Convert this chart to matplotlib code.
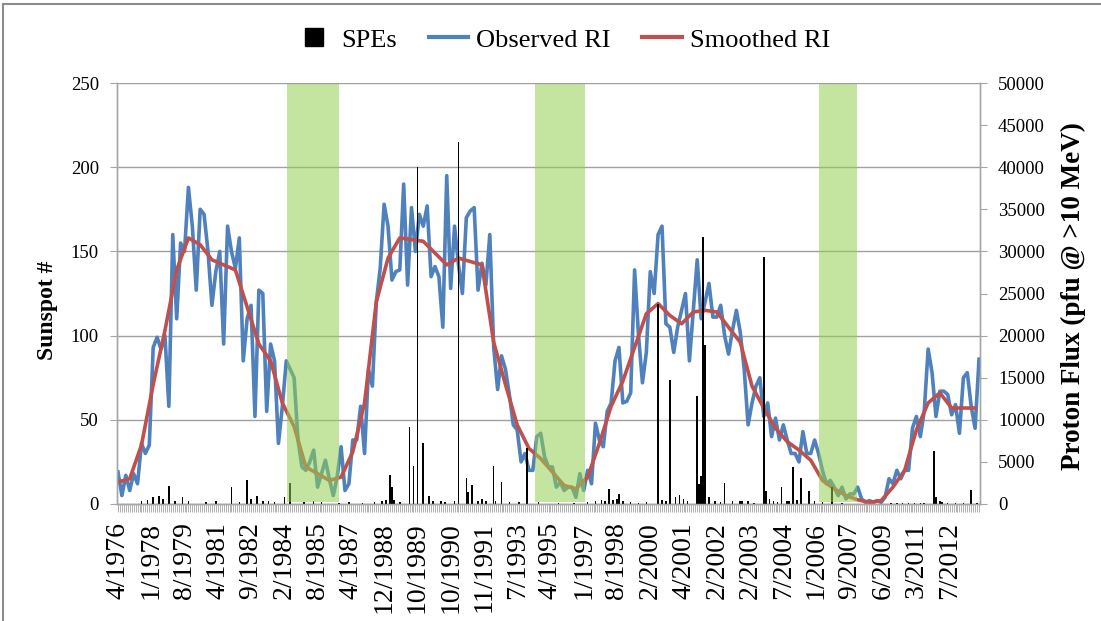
import numpy as np
import matplotlib.pyplot as plt
from matplotlib.lines import Line2D
from matplotlib.patches import Rectangle

plt.rcParams['font.family'] = ['Liberation Serif', 'DejaVu Serif']

# category axis: one row per month / event, label every 17 rows
n_cat = 441
label_step = 17
tick_labels = ['4/1976', '1/1978', '8/1979', '4/1981', '9/1982', '2/1984', '8/1985',
               '4/1987', '12/1988', '10/1989', '10/1990', '11/1991', '7/1993', '4/1995',
               '1/1997', '8/1998', '2/2000', '4/2001', '2/2002', '2/2003', '7/2004',
               '1/2006', '9/2007', '6/2009', '3/2011', '7/2012']

# observed sunspot number, every 2nd category
obs_step = 2
observed_ri = [19, 5, 17, 8, 18, 12, 36, 30, 35, 93, 99, 92, 100, 58, 160, 110, 155, 150, 188, 165,
               127, 175, 172, 150, 118, 138, 150, 95, 165, 150, 140, 158, 85, 110, 118, 52, 127, 125, 55, 95,
               85, 36, 58, 85, 80, 75, 38, 22, 20, 25, 32, 10, 18, 26, 15, 5, 16, 34, 8, 12,
               38, 38, 58, 30, 80, 70, 120, 140, 178, 165, 133, 138, 139, 190, 130, 176, 150, 172, 165, 177,
               135, 141, 135, 105, 195, 128, 165, 142, 125, 170, 174, 176, 127, 143, 130, 160, 93, 68, 88, 80,
               65, 47, 44, 25, 30, 20, 20, 40, 42, 28, 22, 22, 10, 13, 8, 10, 10, 4, 18, 8,
               20, 12, 48, 38, 34, 55, 60, 85, 93, 60, 61, 66, 139, 100, 72, 90, 138, 125, 160, 165,
               107, 105, 90, 105, 115, 125, 85, 115, 145, 110, 120, 131, 111, 111, 118, 100, 89, 103, 115, 102,
               80, 47, 60, 70, 75, 52, 60, 40, 51, 38, 47, 38, 30, 30, 25, 43, 30, 30, 38, 30,
               20, 12, 14, 10, 5, 10, 3, 6, 6, 10, 3, 1, 2, 1, 2, 1, 4, 15, 12, 20,
               15, 20, 20, 45, 52, 40, 55, 92, 78, 52, 67, 67, 65, 53, 59, 42, 75, 78, 58, 45,
               86]

# smoothed sunspot number, every 6th category
smooth_step = 6
smoothed_ri = [13, 15, 35, 71, 103, 139, 158, 154, 145, 142, 139, 117, 95, 85, 60, 46, 22, 18, 14, 16,
               31, 60, 120, 146, 158, 157, 156, 149, 142, 146, 144, 142, 96, 71, 47, 33, 27, 19, 11, 9,
               16, 36, 58, 73, 93, 113, 119, 112, 107, 114, 115, 114, 105, 96, 70, 57, 45, 37, 32, 26,
               14, 9, 5, 2.5, 1, 2, 10, 20, 44, 60, 66, 57, 57, 57]

# solar proton events: category and peak flux (pfu)
spe_idx = [12, 15, 18, 21, 23, 26, 29, 33, 36, 45, 50, 58, 62, 66, 68, 71, 74, 77, 80, 85,
           88, 95, 100, 104, 113, 118, 125, 131, 135, 137, 139, 140, 141, 144, 149, 151, 153, 156, 159, 161,
           165, 167, 172, 174, 178, 179, 181, 184, 186, 188, 192, 193, 196, 200, 205, 209, 215, 225, 233, 240,
           244, 247, 249, 251, 253, 255, 256, 258, 262, 266, 270, 276, 278, 280, 282, 285, 287, 289, 291, 296,
           297, 298, 299, 300, 302, 305, 308, 310, 314, 318, 319, 322, 325, 330, 331, 333, 335, 337, 339, 342,
           343, 345, 347, 349, 353, 356, 360, 365, 370, 380, 395, 398, 401, 404, 407, 410, 412, 417, 418, 420,
           421, 424, 428, 432, 436, 439]
spe_flux = [300, 500, 800, 1000, 600, 2180, 400, 870, 350, 200, 300, 1980, 250, 2890, 600, 990, 400, 300, 200, 800,
            2490, 200, 300, 200, 150, 200, 150, 200, 300, 500, 3480, 1980, 475, 200, 9185, 4550, 40000, 7200, 990, 300,
            400, 200, 300, 42950, 3090, 1390, 2300, 300, 600, 300, 4550, 400, 2650, 200, 250, 6600, 200, 150, 100, 200,
            300, 475, 300, 1780, 500, 600, 1190, 400, 200, 150, 200, 23750, 500, 400, 14730, 800, 1100, 600, 300, 12870,
            2375, 3365, 31750, 18880, 800, 300, 200, 2490, 300, 400, 400, 300, 150, 29380, 1580, 600, 400, 200, 2060, 300,
            400, 4350, 500, 3090, 1500, 300, 200, 1980, 100, 50, 80, 100, 80, 100, 80, 80, 80, 6330, 870, 400,
            200, 150, 120, 100, 1660, 100]

# solar minimum periods (category range)
min_start = [86.4, 213.1, 358.2]
min_end = [113.0, 238.6, 377.6]

x_obs = np.arange(len(observed_ri)) * obs_step
x_smooth = np.arange(len(smoothed_ri)) * smooth_step

fig = plt.figure(figsize=(11.01, 6.21), dpi=100)
ax = fig.add_axes([117 / 1101, 1 - 504 / 621, 863 / 1101, 421 / 621])
ax2 = ax.twinx()

gray = '#a6a6a6'

ax.plot(x_obs, observed_ri, color='#4f81bd', lw=2.6, zorder=3, solid_joinstyle='round')
ax.plot(x_smooth, smoothed_ri, color='#c0504d', lw=2.6, zorder=4, solid_joinstyle='round')
ax.set_ylim(0, 250)
ax.set_yticks(range(0, 251, 50))
ax.grid(axis='y', color='#a0a0a0', lw=1)
ax.set_axisbelow(True)

ax2.bar(spe_idx, spe_flux, width=0.8, color='black', zorder=2)
for s, e in zip(min_start, min_end):
    ax2.axvspan(s, e, ymin=0.005, ymax=0.998, color='#92d050', alpha=0.55, lw=0, zorder=5)
ax2.set_ylim(0, 50000)
ax2.set_yticks(range(0, 50001, 5000))

ax.set_xlim(-0.5, n_cat - 0.5)
ax.set_xticks(np.arange(0, n_cat, label_step))
ax.set_xticklabels(tick_labels, rotation=90, fontsize=20)
ax.set_xticks(np.arange(n_cat), minor=True)
ax.tick_params(axis='x', which='both', length=6, width=0.6, color=gray, pad=7)
ax.tick_params(axis='y', length=5, color=gray, labelsize=13.5, pad=8)
ax2.tick_params(axis='y', length=5, color=gray, labelsize=13.5, pad=8)

for a in (ax, ax2):
    a.spines['top'].set_visible(False)
    for side in ('left', 'right', 'bottom'):
        a.spines[side].set_color(gray)
        a.spines[side].set_linewidth(1)

fig.text(48 / 1101, 1 - 310 / 621, 'Sunspot #', rotation=90, ha='center', va='center',
         fontsize=17, fontweight='bold')
fig.text(1073 / 1101, 1 - 296 / 621, 'Proton Flux (pfu @ >10 MeV)', rotation=90, ha='center',
         va='center', fontsize=19.5, fontweight='bold')

handles = [Line2D([], [], marker='s', color='black', linestyle='none', markersize=13),
           Line2D([], [], color='#4f81bd', lw=3),
           Line2D([], [], color='#c0504d', lw=3)]
fig.legend(handles, ['SPEs', 'Observed RI', 'Smoothed RI'], loc='center', ncol=3,
           bbox_to_anchor=(562 / 1101, 1 - 40 / 621), frameon=False, fontsize=19,
           handlelength=1.5, handletextpad=0.3, columnspacing=1.2)

fig.patches.append(Rectangle((3 / 1101, -0.05), 1.2, 1.05 - 4 / 621, transform=fig.transFigure,
                             fill=False, edgecolor='#8c8c8c', lw=1.5))

fig.savefig('out.png', dpi=100)
